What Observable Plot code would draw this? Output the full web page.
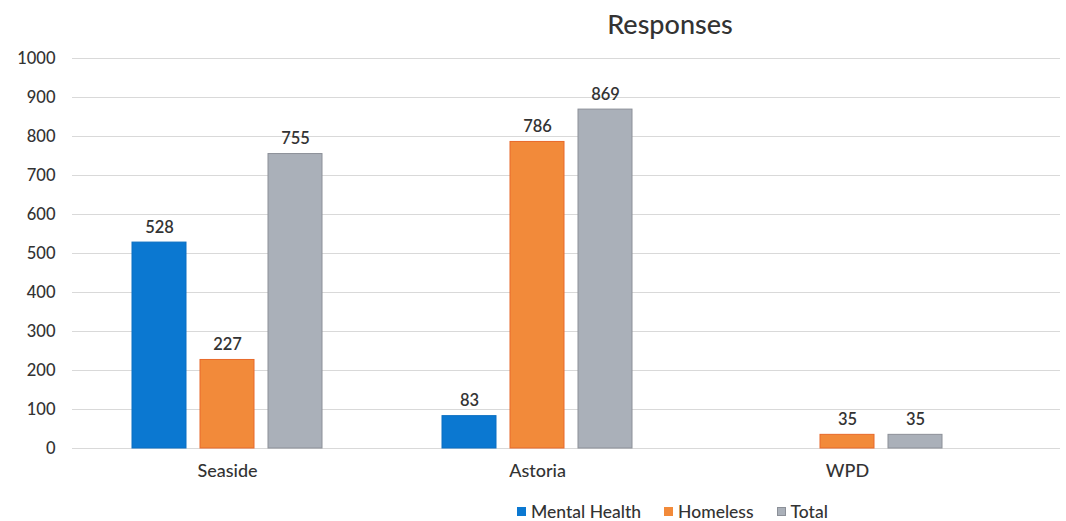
<!DOCTYPE html>
<html>
<head>
<meta charset="utf-8">
<script src="https://cdn.jsdelivr.net/npm/d3@7"></script>
<script src="https://cdn.jsdelivr.net/npm/@observablehq/plot@0.6"></script>
<style>
  html, body { margin: 0; padding: 0; background: #fff; }
  #wrap { position: relative; width: 1066px; height: 521px; font-family: Lato, "Open Sans", sans-serif; color: #333; }
  #title { position: absolute; left: 520px; width: 300px; top: 7px; text-align: center; font-size: 27px; font-weight: 500; color: #333; }
  #chart { position: absolute; left: 0; top: 0; }
  #legend { position: absolute; left: 517px; top: 501px; display: flex; gap: 23px; font-size: 17.5px; font-weight: 500; color: #333; }
  #legend .item { display: flex; align-items: center; gap: 5px; }
  #legend .sw { width: 9px; height: 9px; display: inline-block; box-sizing: border-box; }
</style>
</head>
<body>
<div id="wrap">
  <div id="title">Responses</div>
  <div id="chart"></div>
  <div id="legend"></div>
</div>
<script>
// Categories and series
const groups = ["Seaside", "Astoria", "WPD"];
const series = ["Mental Health", "Homeless", "Total"];
const colors = ["#0b78d1", "#f28a3a", "#aab0b9"];
const strokes = ["#0b6fc2", "#e8692a", "#8c9098"];

// Values per series, aligned with groups (null = no bar)
const mentalHealth = [528, 83, null];
const homeless = [227, 786, 35];
const total = [755, 869, 35];

const yTicks = [0, 100, 200, 300, 400, 500, 600, 700, 800, 900, 1000];

const valuesBySeries = [mentalHealth, homeless, total];
const rows = [];
groups.forEach((g, gi) => {
  series.forEach((s, si) => {
    const v = valuesBySeries[si][gi];
    if (v != null) rows.push({group: g, series: s, value: v});
  });
});

const chart = Plot.plot({
  width: 1066,
  height: 490,
  marginTop: 58,
  marginBottom: 42,
  marginLeft: 72,
  marginRight: 6,
  style: {fontFamily: "Lato, 'Open Sans', sans-serif", fontSize: "15px", color: "#333", background: "transparent"},
  fx: {domain: groups, range: [72, 1002], paddingInner: 0, paddingOuter: 0, label: null},
  x: {domain: series, paddingInner: 0.2, paddingOuter: 0.85, axis: null},
  y: {domain: [0, 1000], label: null},
  color: {domain: series, range: colors},
  marks: [
    // horizontal gridlines; each facet's rules reach past its right edge so the last one runs to the plot's end
    Plot.ruleY(yTicks, {stroke: "#d9d9d9", strokeWidth: 1, insetRight: -58}),
    Plot.axisY({ticks: yTicks, tickFormat: d => String(d), tickSize: 0, tickPadding: 17, label: null, fontSize: 16.5, fontWeight: 500}),
    Plot.barY(rows, {fx: "group", x: "series", y: "value", fill: "series", stroke: d => strokes[series.indexOf(d.series)], strokeWidth: 1}),
    Plot.text(rows, {fx: "group", x: "series", y: "value", text: d => String(d.value), lineAnchor: "bottom", dy: -10, fontSize: 16.5, fontWeight: 600, fill: "#333"}),
    Plot.axisFx({anchor: "bottom", tickSize: 0, tickPadding: 16, label: null, fontSize: 18, fontWeight: 500})
  ]
});
document.getElementById("chart").appendChild(chart);

// Legend swatches
const legend = document.getElementById("legend");
series.forEach((s, i) => {
  const item = document.createElement("span");
  item.className = "item";
  const sw = document.createElement("span");
  sw.className = "sw";
  sw.style.background = colors[i];
  sw.style.border = i === 2 ? "1px solid " + strokes[i] : "none";
  item.appendChild(sw);
  item.appendChild(document.createTextNode(s));
  legend.appendChild(item);
});
</script>
</body>
</html>
